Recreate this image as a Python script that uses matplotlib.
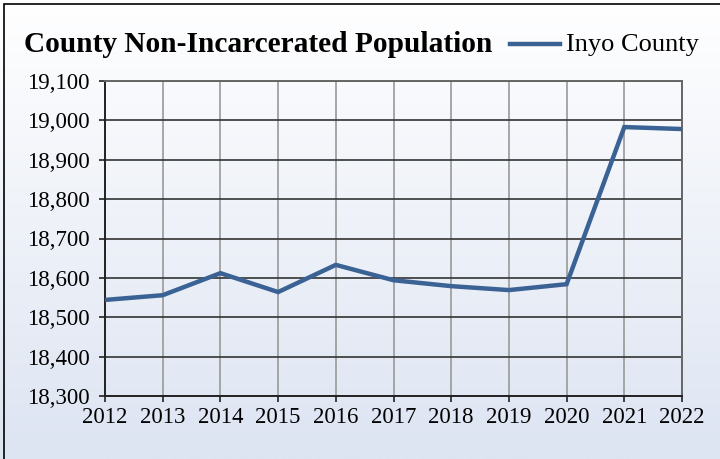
import numpy as np
import matplotlib.pyplot as plt
from matplotlib.patches import Rectangle
from matplotlib.lines import Line2D

years = [2012, 2013, 2014, 2015, 2016, 2017, 2018, 2019, 2020, 2021, 2022]
population = [18544, 18556, 18612, 18564, 18633, 18594, 18579, 18569, 18584, 18983, 18978]
series_name = "Inyo County"
title = "County Non-Incarcerated Population"

plt.rcParams['font.family'] = ['Liberation Serif', 'DejaVu Serif']

fig = plt.figure(figsize=(7.2, 4.59), dpi=100)

# gradient background
bg = fig.add_axes([0, 0, 1, 1], zorder=-10)
grad = np.linspace(0, 1, 256).reshape(-1, 1)
top = np.array([1.0, 1.0, 1.0])
bot = np.array([0xdd, 0xe4, 0xf2]) / 255
img = top + (bot - top) * grad[:, :, None]
bg.imshow(img, aspect='auto', extent=[0, 1, 0, 1], origin='upper')
bg.set_xlim(0, 1); bg.set_ylim(0, 1)
bg.axis('off')
bg.add_patch(Rectangle((4/720, -0.01), 1.02, 1.01 - 4/459,
                       fill=False, edgecolor='black', lw=1.2,
                       transform=bg.transAxes, clip_on=False))

ax = fig.add_axes([105/720, 1 - 396/459, (682-105)/720, (396-81)/459])
ax.patch.set_alpha(0)
ax.plot(years, population, color='#3b6294', lw=3.2, solid_joinstyle='miter', zorder=3)

ax.set_xlim(2012, 2022)
ax.set_ylim(18300, 19100)
ax.set_xticks(years)
ax.set_yticks(np.arange(18300, 19101, 100))
ax.yaxis.set_major_formatter(plt.FuncFormatter(lambda v, p: f"{int(v):,}"))
ax.tick_params(axis='both', labelsize=16.5, length=4, width=1.2, color='#222222', direction='out')
ax.tick_params(axis='x', pad=4)
ax.tick_params(axis='y', pad=7)

ax.grid(axis='x', color='#999999', lw=1.2)
ax.grid(axis='y', color='#333333', lw=1.2)
for s in ['left', 'bottom']:
    ax.spines[s].set_color('#222222')
    ax.spines[s].set_linewidth(1.4)
for s in ['top', 'right']:
    ax.spines[s].set_color('#666666')
    ax.spines[s].set_linewidth(1.4)
ax.set_axisbelow(True)

fig.text(24/720, 1 - 45/459, title, fontsize=21.2, fontweight='bold', va='center', ha='left')
leg_line = Line2D([510/720, 560/720], [1 - 44/459, 1 - 44/459], color='#3b6294', lw=3.2,
                  transform=fig.transFigure)
fig.add_artist(leg_line)
fig.text(566/720, 1 - 45/459, series_name, fontsize=19, va='center', ha='left')

fig.savefig('out.png', dpi=100)
